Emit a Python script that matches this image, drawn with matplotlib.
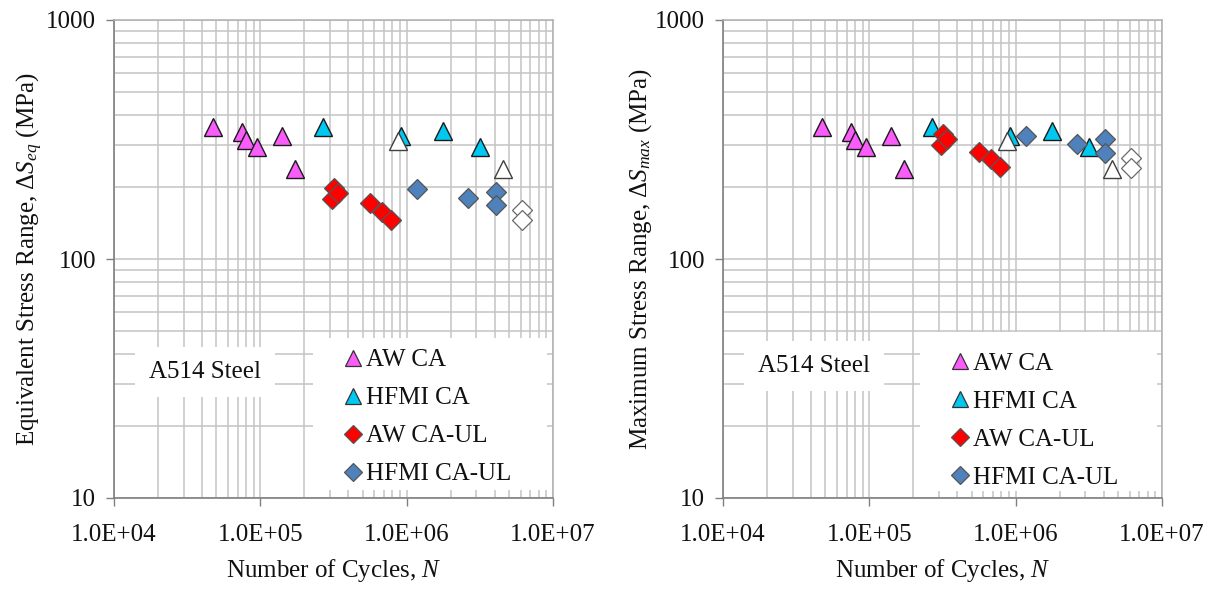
import matplotlib
matplotlib.use("Agg")
import matplotlib.pyplot as plt
from matplotlib.lines import Line2D
from matplotlib.patches import Rectangle
from matplotlib.ticker import FixedLocator, LogLocator, FuncFormatter, NullFormatter

plt.rcParams['font.family'] = ['Liberation Serif', 'DejaVu Serif']
plt.rcParams['mathtext.fontset'] = 'custom'
plt.rcParams['mathtext.rm'] = 'Liberation Serif'
plt.rcParams['mathtext.it'] = 'Liberation Serif:italic'

# As-welded, constant amplitude
aw_ca_n = [47700, 74600, 79500, 94500, 140700, 171900]
aw_ca_s = [355, 341, 314, 294, 328, 238]
# HFMI treated, constant amplitude
hfmi_ca_n = [267000, 920000, 1780000, 3180000]
hfmi_ca_s = [355, 328, 344, 294]
# constant amplitude run-outs
ca_runout_n = [879000, 4580000]
ca_runout_s = [313, 238]
# As-welded, constant amplitude with underloads
aw_ul_n = [307600, 320600, 341500, 562000, 676000, 782000]
aw_ul_seq = [178, 198, 189, 171, 158, 146]
aw_ul_smax = [300, 332, 317, 281, 262, 242]
# HFMI treated, constant amplitude with underloads
hfmi_ul_n = [1172000, 2640000, 4080000, 4080000]
hfmi_ul_seq = [196, 180, 191, 168]
hfmi_ul_smax = [328, 302, 318, 279]
# underload run-outs
ul_runout_n = [6120000, 6120000]
ul_runout_seq = [160, 146]
ul_runout_smax = [264, 240]

series_labels = ['AW CA', 'HFMI CA', 'AW CA-UL', 'HFMI CA-UL']
x_ticks = [1e4, 1e5, 1e6, 1e7]
y_ticks = [10, 100, 1000]
material = 'A514 Steel'

PINK = '#FA5CFA'
CYAN = '#00C8F0'
RED = '#FF0000'
BLUE = '#4F81BD'
FS = 18

fig = plt.figure(figsize=(12.14, 5.90), dpi=100)
W, H = 1214, 590


def panel(left_px, ul_aw, ul_hfmi, ul_run, ylabel, txt_pos, leg_box, leg_anchor):
    ax = fig.add_axes([left_px / W, (H - 498) / H, 439 / W, 478 / H])
    ax.set_xscale('log')
    ax.set_yscale('log')
    ax.set_xlim(1e4, 1e7)
    ax.set_ylim(10, 1000)

    tri = dict(linestyle='none', marker='^', ms=12.5, mec='#1A1A1A', mew=1.0)
    dia = dict(linestyle='none', marker='D', ms=10, mec='#555555', mew=0.9)
    ax.plot(aw_ca_n, aw_ca_s, mfc=PINK, zorder=4, **tri)
    ax.plot(hfmi_ca_n, hfmi_ca_s, mfc=CYAN, zorder=4, **tri)
    ax.plot(ca_runout_n, ca_runout_s, mfc='white', zorder=5,
            **{**tri, 'mec': '#404040'})
    ax.plot(aw_ul_n, ul_aw, mfc=RED, zorder=4, **dia)
    ax.plot(hfmi_ul_n, ul_hfmi, mfc=BLUE, zorder=4, **dia)
    ax.plot(ul_runout_n, ul_run, mfc='white', zorder=5,
            **{**dia, 'mec': '#6A6A6A'})

    ax.xaxis.set_major_locator(FixedLocator(x_ticks))
    ax.xaxis.set_minor_locator(LogLocator(base=10, subs=range(2, 10)))
    ax.xaxis.set_major_formatter(FuncFormatter(lambda v, p: f'{v:.1E}'))
    ax.xaxis.set_minor_formatter(NullFormatter())
    ax.yaxis.set_major_locator(FixedLocator(y_ticks))
    ax.yaxis.set_minor_locator(LogLocator(base=10, subs=range(2, 10)))
    ax.yaxis.set_major_formatter(FuncFormatter(lambda v, p: f'{v:g}'))
    ax.yaxis.set_minor_formatter(NullFormatter())

    ax.grid(which='both', color='#C4C4C4', linewidth=1.1, zorder=0)
    ax.set_axisbelow(True)
    ax.tick_params(which='major', direction='out', length=6, width=1,
                   color='#808080', labelsize=FS, labelcolor='#111111')
    ax.tick_params(axis='x', which='major', pad=13)
    ax.tick_params(axis='y', which='major', pad=7)
    ax.tick_params(which='minor', length=0)
    for side in ['left', 'bottom']:
        ax.spines[side].set_color('#7F7F7F')
        ax.spines[side].set_linewidth(1.2)
    for side in ['top', 'right']:
        ax.spines[side].set_color('#B0B0B0')
        ax.spines[side].set_linewidth(1.1)

    ax.set_xlabel('Number of Cycles, $N$', fontsize=FS, color='#111111', labelpad=8)
    ax.set_ylabel(ylabel, fontsize=FS, color='#111111', labelpad=1)

    ax.text(txt_pos[0], txt_pos[1], material, transform=ax.transAxes,
            fontsize=FS, ha='center', va='center', color='#111111', zorder=6,
            bbox=dict(boxstyle='square,pad=0.56', fc='white', ec='none'))

    ax.add_patch(Rectangle((leg_box[0], leg_box[1]), leg_box[2], leg_box[3],
                           transform=ax.transAxes, facecolor='white',
                           edgecolor='none', zorder=6))
    handles = [
        Line2D([], [], linestyle='none', marker='^', ms=11, mfc=PINK, mec='#333333', mew=0.9),
        Line2D([], [], linestyle='none', marker='^', ms=11, mfc=CYAN, mec='#333333', mew=0.9),
        Line2D([], [], linestyle='none', marker='D', ms=9, mfc=RED, mec='#555555', mew=0.9),
        Line2D([], [], linestyle='none', marker='D', ms=9, mfc=BLUE, mec='#555555', mew=0.9),
    ]
    leg = ax.legend(handles, series_labels, loc='upper left',
                    bbox_to_anchor=leg_anchor, frameon=False, fontsize=FS,
                    handlelength=0.45, handletextpad=0.3, labelspacing=0.62,
                    borderpad=0, borderaxespad=0)
    leg.set_zorder(7)
    for t in leg.get_texts():
        t.set_color('#111111')
    return ax


panel(114, aw_ul_seq, hfmi_ul_seq, ul_runout_seq,
      'Equivalent Stress Range, Δ$S_{eq}$ (MPa)',
      (0.207, 0.263), (0.453, 0.017, 0.533, 0.318), (0.531, 0.312))
panel(723, aw_ul_smax, hfmi_ul_smax, ul_runout_smax,
      'Maximum Stress Range, Δ$S_{max}$ (MPa)',
      (0.207, 0.276), (0.449, 0.014, 0.540, 0.333), (0.527, 0.305))

fig.savefig('out.png', dpi=100, facecolor='white')
